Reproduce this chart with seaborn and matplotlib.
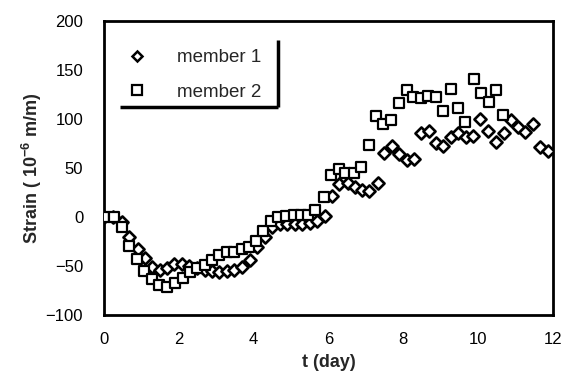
import matplotlib
matplotlib.use("Agg")
import matplotlib.pyplot as plt
from matplotlib.lines import Line2D
import pandas as pd
import seaborn as sns

# Strain readings of the two members over time
t_member1 = [0.00, 0.25, 0.48, 0.67, 0.90, 1.10, 1.29, 1.49, 1.68, 1.88,
             2.08, 2.28, 2.48, 2.69, 2.88, 3.08, 3.28, 3.48, 3.68, 3.90,
             4.10, 4.30, 4.48, 4.70, 4.88, 5.10, 5.30, 5.50, 5.70, 5.90,
             6.10, 6.29, 6.52, 6.71, 6.89, 7.09, 7.31, 7.49, 7.69, 7.88,
             8.09, 8.29, 8.47, 8.69, 8.88, 9.07, 9.28, 9.47, 9.67, 9.87,
             10.05, 10.26, 10.47, 10.68, 10.87, 11.06, 11.26, 11.46, 11.66, 11.86]
strain_member1 = [0, 0, -5, -20, -33, -42, -51, -54, -52, -48,
                  -48, -50, -52, -54, -55, -56, -55, -54, -51, -44,
                  -31, -20, -10, -7, -7, -7, -7, -6, -4, 1,
                  21, 34, 35, 31, 28, 27, 35, 65, 73, 64,
                  58, 59, 86, 88, 76, 73, 82, 86, 82, 83,
                  100, 88, 77, 86, 99, 92, 87, 95, 71, 67]

t_member2 = [0.00, 0.27, 0.47, 0.68, 0.87, 1.08, 1.28, 1.48, 1.68, 1.90,
             2.12, 2.29, 2.49, 2.69, 2.88, 3.08, 3.28, 3.48, 3.68, 3.87,
             4.06, 4.26, 4.46, 4.66, 4.87, 5.08, 5.26, 5.44, 5.64, 5.88,
             6.06, 6.29, 6.44, 6.67, 6.86, 7.07, 7.27, 7.45, 7.67, 7.89,
             8.09, 8.25, 8.48, 8.67, 8.88, 9.05, 9.27, 9.45, 9.65, 9.88,
             10.07, 10.28, 10.47, 10.66]
strain_member2 = [0, 0, -10, -30, -43, -55, -63, -69, -71, -67,
                  -62, -56, -52, -49, -44, -39, -36, -36, -33, -31,
                  -24, -14, -4, 0, 1, 2, 2, 2, 7, 20,
                  43, 49, 45, 45, 51, 74, 103, 95, 99, 116,
                  130, 122, 121, 124, 122, 108, 131, 111, 97, 141,
                  127, 117, 130, 104]

x_ticks = [0, 2, 4, 6, 8, 10, 12]
y_ticks = [-100, -50, 0, 50, 100, 150, 200]

sns.set_theme(style="white")
plt.rcParams["font.family"] = ["Liberation Sans", "DejaVu Sans"]
plt.rcParams["mathtext.fontset"] = "custom"
plt.rcParams["mathtext.rm"] = "Liberation Sans"
plt.rcParams["mathtext.bf"] = "Liberation Sans:bold"

df1 = pd.DataFrame({"t": t_member1, "strain": strain_member1})
df2 = pd.DataFrame({"t": t_member2, "strain": strain_member2})

fig = plt.figure(figsize=(5.67, 3.83), dpi=100)
ax = fig.add_axes([0.1834, 0.1775, 0.7919, 0.7675])

sns.scatterplot(data=df1, x="t", y="strain", marker="D", s=38,
                color="white", edgecolor="black", linewidth=1.9, ax=ax,
                zorder=3)
sns.scatterplot(data=df2, x="t", y="strain", marker="s", s=62,
                color="white", edgecolor="black", linewidth=1.6, ax=ax,
                zorder=4)

ax.set_xlim(0, 12)
ax.set_ylim(-100, 200)
ax.set_xticks(x_ticks)
ax.set_yticks(y_ticks)
ax.tick_params(axis="both", length=0, labelsize=12, colors="black")
ax.tick_params(axis="y", pad=15)
ax.tick_params(axis="x", pad=12)

for sp in ax.spines.values():
    sp.set_visible(True)
    sp.set_color("black")
    sp.set_linewidth(2)

ax.set_xlabel("t (day)", fontsize=13, fontweight="bold", labelpad=5)
ax.set_ylabel(r"Strain ( 10$^{\mathbf{-6}}$ m/m)", fontsize=13,
              fontweight="bold", labelpad=1)

handles = [
    Line2D([], [], linestyle="none", marker="D", markersize=5,
           markerfacecolor="white", markeredgecolor="black", markeredgewidth=1.8),
    Line2D([], [], linestyle="none", marker="s", markersize=7,
           markerfacecolor="white", markeredgecolor="black", markeredgewidth=1.6),
]
ax.legend(handles, ["member 1", "member 2"], loc="upper left",
          bbox_to_anchor=(0.042, 0.905), borderaxespad=0, borderpad=0,
          frameon=False, fontsize=13.5, handlelength=1.5,
          handletextpad=1.4, labelspacing=0.95)

# offset edge lines on the right and bottom of the legend block
ax.plot([0.3875, 0.3875], [0.935, 0.707], color="black", lw=2.5,
        transform=ax.transAxes, clip_on=False, solid_capstyle="butt")
ax.plot([0.035, 0.3875], [0.707, 0.707], color="black", lw=2.5,
        transform=ax.transAxes, clip_on=False, solid_capstyle="butt")

fig.savefig("out.png", dpi=100)
